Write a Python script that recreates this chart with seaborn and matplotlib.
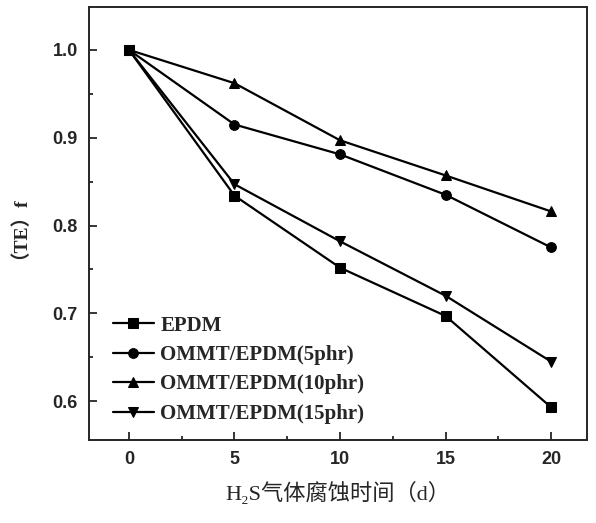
import matplotlib
matplotlib.use('Agg')
import matplotlib.pyplot as plt
import seaborn as sns
import pandas as pd
from matplotlib.ticker import MultipleLocator

# 数据
days = [0, 5, 10, 15, 20]
epdm = [1.0, 0.834, 0.752, 0.697, 0.593]
ommt_5 = [1.0, 0.915, 0.881, 0.835, 0.775]
ommt_10 = [1.0, 0.962, 0.897, 0.857, 0.816]
ommt_15 = [1.0, 0.847, 0.782, 0.720, 0.645]
labels = ['EPDM', 'OMMT/EPDM(5phr)', 'OMMT/EPDM(10phr)', 'OMMT/EPDM(15phr)']

rows = []
for name, vals in zip(labels, [epdm, ommt_5, ommt_10, ommt_15]):
    for d, v in zip(days, vals):
        rows.append({'day': d, 'fTE': v, 'sample': name})
df = pd.DataFrame(rows)

sns.set_style('ticks')
plt.rcParams['font.family'] = ['Liberation Sans', 'Noto Sans CJK SC', 'DejaVu Sans']

fig = plt.figure(figsize=(5.96, 5.23), dpi=100)
ax = fig.add_axes([0.149, 0.159, 0.836, 0.828])

sns.lineplot(data=df, x='day', y='fTE', style='sample', markers=['s', 'o', '^', 'v'],
             dashes=False, color='black', markersize=7, linewidth=1.6, ax=ax,
             markeredgecolor='black')

ax.set_xlim(-1.9, 21.7)
ax.set_ylim(0.556, 1.049)
ax.xaxis.set_major_locator(MultipleLocator(5))
ax.xaxis.set_minor_locator(MultipleLocator(2.5))
ax.yaxis.set_major_locator(MultipleLocator(0.1))
ax.yaxis.set_minor_locator(MultipleLocator(0.05))
ax.tick_params(which='both', direction='in', width=1.3, top=False, right=False)
ax.tick_params(which='major', length=6, labelsize=13, pad=8)
ax.tick_params(which='minor', length=3)
for lab in ax.get_xticklabels() + ax.get_yticklabels():
    lab.set_fontweight('bold')
for sp in ax.spines.values():
    sp.set_linewidth(1.4)

ax.set_xlabel('H₂S气体腐蚀时间（d）', fontsize=16,
              family=['Liberation Serif', 'DejaVu Serif', 'Noto Sans CJK SC'], labelpad=10)
ax.set_ylabel('（TE）f', fontsize=14, fontweight='bold',
              family=['Liberation Serif', 'Noto Sans CJK SC'], labelpad=24)

leg = ax.legend(loc='upper left', bbox_to_anchor=(0.01, 0.33), frameon=False,
                handlelength=2.0, handletextpad=0.3, labelspacing=0.45,
                prop={'family': 'Liberation Serif', 'weight': 'bold', 'size': 15})

fig.savefig('out.png', dpi=100)
